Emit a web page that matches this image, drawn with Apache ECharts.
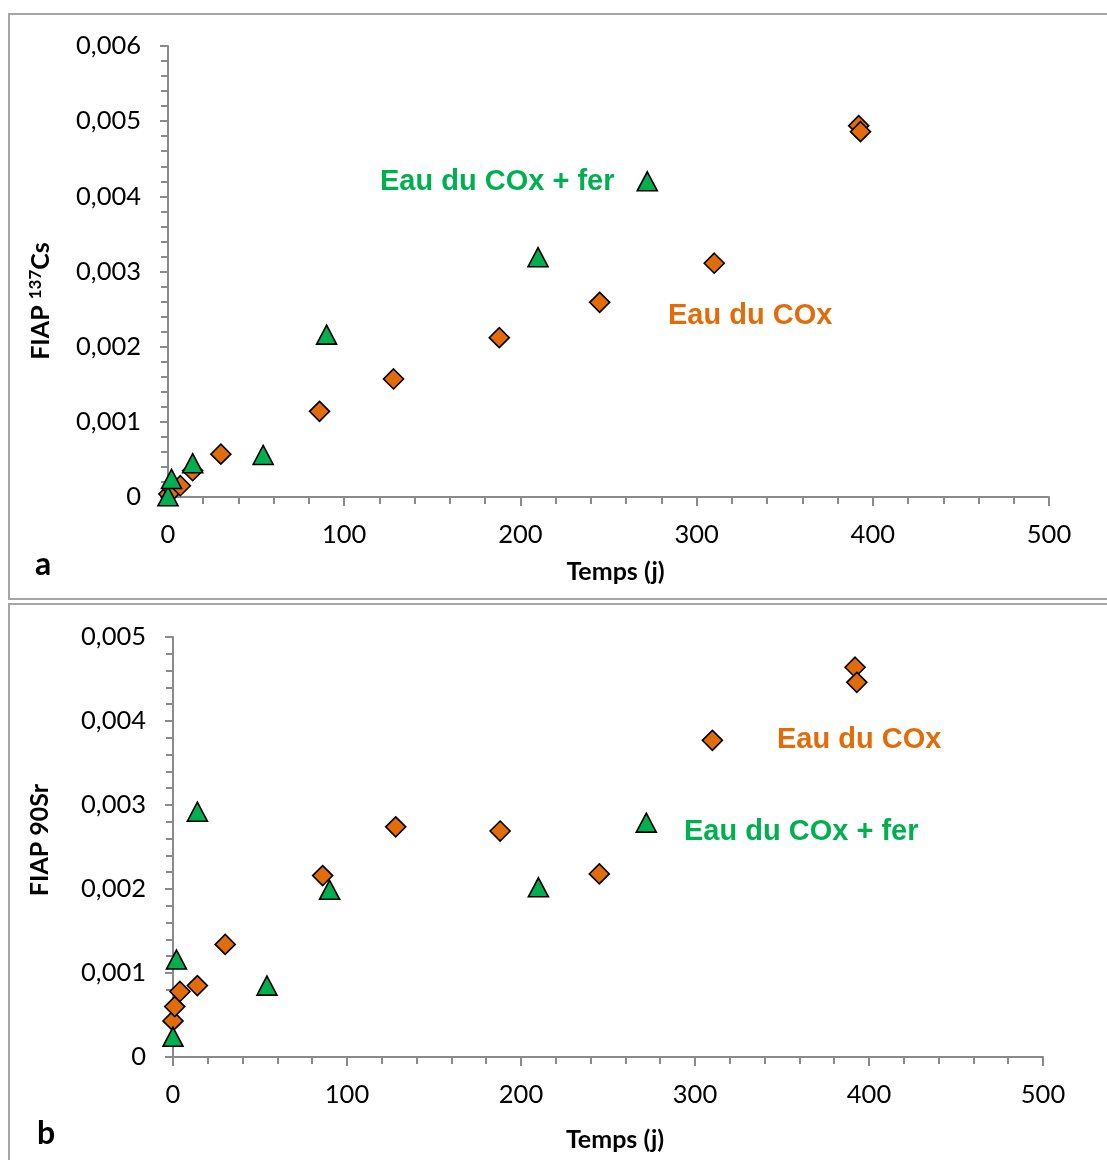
<!DOCTYPE html>
<html><head><meta charset="utf-8">
<script src="https://cdn.jsdelivr.net/npm/echarts@6/dist/echarts.min.js"></script>
<style>html,body{margin:0;padding:0;background:#fff}#c{width:1107px;height:1160px}</style>
</head><body><div id="c"></div>
<script>
// Panel a : 137Cs
const csCoxDays = [0.5, 3, 7, 14, 30, 86, 128, 188, 245, 310, 392, 393];
const csCoxVals = [0.00004, 0.0001, 0.00015, 0.00035, 0.00057, 0.00114, 0.00157, 0.00212, 0.00259, 0.00311, 0.00494, 0.00486];
const csFerDays = [0, 2, 14, 54, 90, 210, 272];
const csFerVals = [0.00001, 0.00024, 0.00045, 0.00056, 0.00216, 0.00319, 0.0042];
// Panel b : 90Sr
const srCoxDays = [0, 1, 4, 14, 30, 86, 128, 188, 245, 310, 392, 393];
const srCoxVals = [0.00043, 0.0006, 0.00078, 0.00085, 0.00134, 0.00216, 0.00274, 0.00269, 0.00218, 0.00377, 0.00464, 0.00446];
const srFerDays = [0, 2, 14, 54, 90, 210, 272];
const srFerVals = [0.00024, 0.00116, 0.00292, 0.00085, 0.00199, 0.00202, 0.00279];
// tick labels
const xTicks = ['0', '100', '200', '300', '400', '500'];
const yTicksA = ['0', '0,001', '0,002', '0,003', '0,004', '0,005', '0,006'];
const yTicksB = ['0', '0,001', '0,002', '0,003', '0,004', '0,005'];
// texts
const seriesNames = ['Eau du COx', 'Eau du COx + fer'];
const xTitle = 'Temps (j)';
const panelLetters = ['a', 'b'];

const ORANGE = '#E36C0A', GREEN = '#00B050', AXIS = '#8A8A8A';
const tickFont = {fontFamily: 'Lato, "Open Sans", sans-serif', fontSize: 25.5, color: '#000'};

function pts(xs, ys) { return xs.map((x, i) => [x, ys[i]]); }

function xAxis(gi, nameGap) {
  return {
    gridIndex: gi, type: 'value', min: 0, max: 500, interval: 100,
    axisLine: {show: true, onZero: false, lineStyle: {color: AXIS, width: 2}},
    axisTick: {show: true, length: 9, lineStyle: {color: AXIS, width: 2}},
    minorTick: {show: true, splitNumber: 5, length: 7, lineStyle: {color: AXIS, width: 2}},
    splitLine: {show: false},
    axisLabel: Object.assign({margin: 25, formatter: (v) => xTicks[Math.round(v / 100)]}, tickFont),
    name: xTitle, nameLocation: 'middle', nameGap: nameGap,
    nameTextStyle: {fontFamily: 'Lato, sans-serif', fontWeight: 'bold', fontSize: 25, color: '#000', padding: [0, 0, 0, 14]}
  };
}
function yAxis(gi, max, ticks) {
  return {
    gridIndex: gi, type: 'value', min: 0, max: max, interval: 0.001,
    axisLine: {show: true, onZero: false, lineStyle: {color: AXIS, width: 2}},
    axisTick: {show: true, length: 8, lineStyle: {color: AXIS, width: 2}},
    minorTick: {show: true, splitNumber: 5, length: 7, lineStyle: {color: AXIS, width: 2}},
    splitLine: {show: false},
    axisLabel: Object.assign({margin: 27, formatter: (v) => ticks[Math.round(v / 0.001)]}, tickFont)
  };
}
function scat(name, gi, data, sym, color) {
  return {
    name: name, type: 'scatter', xAxisIndex: gi, yAxisIndex: gi, data: data,
    symbol: sym, symbolSize: sym === 'triangle' ? [20, 19] : 20,
    itemStyle: {color: color, borderColor: '#000', borderWidth: 1.6, opacity: 1},
    emphasis: {disabled: true}, silent: true
  };
}
function ann(text, x, y, color) {
  return {type: 'text', x: x, y: y, style: {text: text, fill: color,
    font: 'bold 29px "Liberation Sans", Arial, sans-serif', textAlign: 'left', textVerticalAlign: 'middle'}};
}

const chart = echarts.init(document.getElementById('c'), null, {renderer: 'canvas'});
chart.setOption({
  animation: false,
  backgroundColor: '#fff',
  grid: [
    {left: 168, top: 46, width: 881, height: 451, containLabel: false},
    {left: 173, top: 637, width: 870, height: 420, containLabel: false}
  ],
  xAxis: [xAxis(0, 62), xAxis(1, 70)],
  yAxis: [yAxis(0, 0.006, yTicksA), yAxis(1, 0.005, yTicksB)],
  series: [
    scat(seriesNames[0], 0, pts(csCoxDays, csCoxVals), 'diamond', ORANGE),
    scat(seriesNames[1], 0, pts(csFerDays, csFerVals), 'triangle', GREEN),
    scat(seriesNames[0], 1, pts(srCoxDays, srCoxVals), 'diamond', ORANGE),
    scat(seriesNames[1], 1, pts(srFerDays, srFerVals), 'triangle', GREEN)
  ],
  graphic: [
    {type: 'rect', shape: {x: 9, y: 14, width: 1110, height: 585}, style: {fill: 'none', stroke: '#A6A6A6', lineWidth: 2}, silent: true, z: -1},
    {type: 'rect', shape: {x: 9, y: 604, width: 1110, height: 580}, style: {fill: 'none', stroke: '#A6A6A6', lineWidth: 2}, silent: true, z: -1},
    {type: 'text', x: 40, y: 301, rotation: Math.PI / 2, style: {
      text: '{t|FIAP }{s|137}{t|Cs}', textAlign: 'center', textVerticalAlign: 'middle',
      rich: {t: {fontFamily: 'Lato, sans-serif', fontWeight: 'bold', fontSize: 25, fill: '#000', verticalAlign: 'bottom'},
             s: {fontFamily: 'Lato, sans-serif', fontWeight: 'bold', fontSize: 17, fill: '#000', verticalAlign: 'top', padding: [0, 0, 9, 0]}}}},
    {type: 'text', x: 40, y: 840, rotation: Math.PI / 2, style: {
      text: 'FIAP 90Sr', textAlign: 'center', textVerticalAlign: 'middle',
      font: 'bold 25px Lato, sans-serif', fill: '#000'}},
    {type: 'text', x: 43, y: 565, style: {text: panelLetters[0], textAlign: 'center', textVerticalAlign: 'middle', font: 'bold 32px Lato, sans-serif', fill: '#000'}},
    {type: 'text', x: 46, y: 1134, style: {text: panelLetters[1], textAlign: 'center', textVerticalAlign: 'middle', font: 'bold 32px Lato, sans-serif', fill: '#000'}},
    ann(seriesNames[1], 380, 182, GREEN),
    ann(seriesNames[0], 668, 316, ORANGE),
    ann(seriesNames[0], 777, 740, ORANGE),
    ann(seriesNames[1], 684, 832, GREEN)
  ]
});
</script>
</body></html>
